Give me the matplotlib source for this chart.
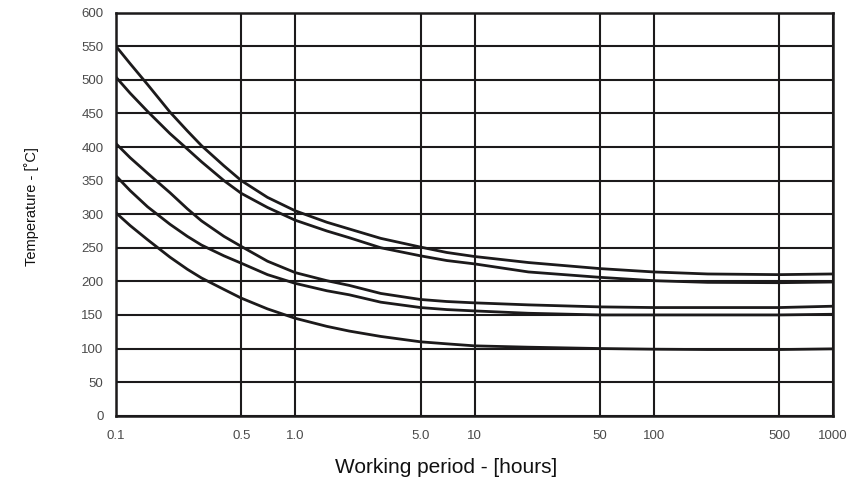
import matplotlib

matplotlib.use("Agg")
import matplotlib.pyplot as plt

plt.rcParams["font.family"] = ["Liberation Sans", "DejaVu Sans"]

HOURS = [0.1, 0.12, 0.15, 0.2, 0.25, 0.3, 0.4, 0.5, 0.7, 1, 1.5, 2, 3, 5, 7, 10, 20, 50, 100, 200, 500, 1000]

# temperature [deg C], one list per curve, top to bottom
CURVE_1 = [550, 524, 493, 452, 424, 402, 372, 350, 325, 305, 288, 278, 264, 251, 243, 237, 228, 219, 214, 211, 210, 211]
CURVE_2 = [504, 480, 453, 420, 397, 378, 350, 331, 310, 291, 275, 265, 250, 238, 231, 226, 214, 206, 201, 198.5, 198, 199]
CURVE_3 = [405, 384, 361, 332, 308, 290, 267, 252, 230, 213, 201, 194, 182, 173, 170, 168, 165, 162, 161, 161, 161, 163]
CURVE_4 = [357, 335, 311, 285, 267, 254, 238, 227, 210, 197, 186, 180, 169, 161, 158, 156, 152.5, 150, 150, 150, 150, 151]
CURVE_5 = [302, 283, 262, 236, 218, 205, 188, 175, 159, 145, 133, 126, 118, 110, 107, 104, 102, 100, 99, 98.5, 98.5, 99.5]

X_TICKS = [0.1, 0.5, 1, 5, 10, 50, 100, 500, 1000]
X_TICK_LABELS = ["0.1", "0.5", "1.0", "5.0", "10", "50", "100", "500", "1000"]
Y_TICKS = list(range(0, 601, 50))

INK = "#1c1a1b"
LABEL_GREY = "#4a4a4a"


def main():
    fig = plt.figure(figsize=(8.67, 4.87), dpi=100)
    ax = fig.add_axes([0.1338, 0.1464, 0.8270, 0.8276])

    for series in (CURVE_1, CURVE_2, CURVE_3, CURVE_4, CURVE_5):
        ax.plot(HOURS, series, color=INK, linewidth=2.0, solid_capstyle="butt",
                solid_joinstyle="round", zorder=3)

    ax.set_xscale("log")
    ax.set_xlim(0.1, 1000)
    ax.set_ylim(0, 600)
    ax.set_xticks(X_TICKS)
    ax.set_xticklabels(X_TICK_LABELS)
    ax.set_xticks([], minor=True)
    ax.set_yticks(Y_TICKS)

    ax.grid(True, which="major", color=INK, linewidth=1.5)
    ax.set_axisbelow(True)
    for spine in ax.spines.values():
        spine.set_color(INK)
        spine.set_linewidth(1.8)

    ax.tick_params(axis="both", length=0, labelsize=9.5, labelcolor=LABEL_GREY)
    ax.tick_params(axis="y", pad=9)
    ax.tick_params(axis="x", pad=10)

    ax.set_xlabel("Working period - [hours]", fontsize=15, color="#111111")
    ax.xaxis.set_label_coords(0.461, -0.105)
    ax.set_ylabel("Temperature - [˚C]", fontsize=10.5, color="#111111")
    ax.yaxis.set_label_coords(-0.108, 0.52)

    fig.savefig("out.png", dpi=100)
    plt.close(fig)


if __name__ == "__main__":
    main()
